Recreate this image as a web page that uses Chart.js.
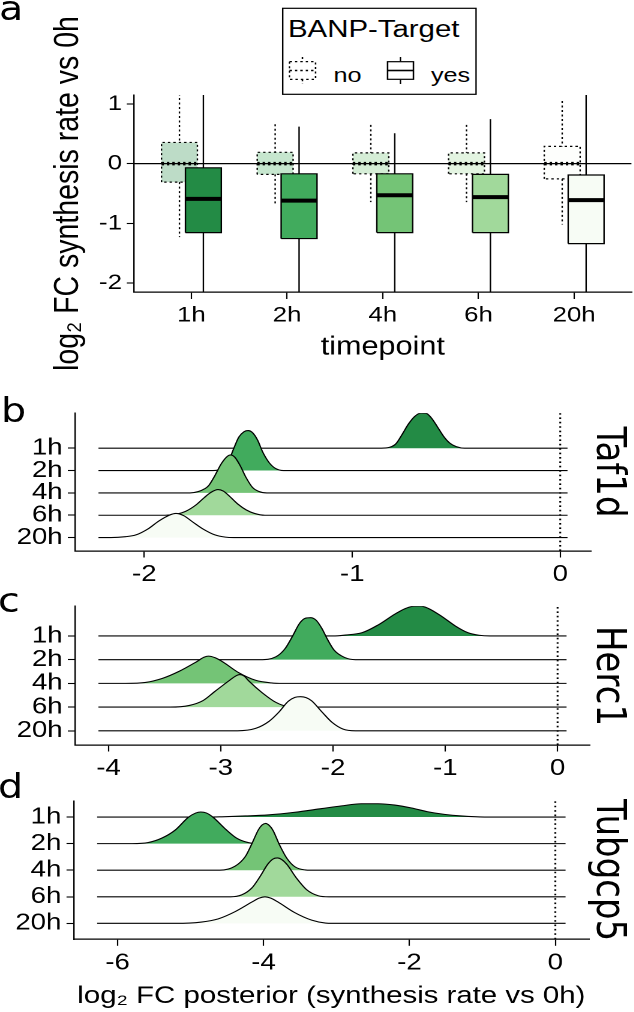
<!DOCTYPE html>
<html lang="en">
<head>
<meta charset="utf-8">
<title>BANP target synthesis rates</title>
<script src="https://cdn.jsdelivr.net/npm/chart.js@4.4.1/dist/chart.umd.min.js"></script>
<style>
  html, body { margin: 0; padding: 0; background: #ffffff; overflow: hidden; }
  /* the source figure is stretched horizontally: draw narrow, then stretch */
  #page { position: relative; width: 528.33px; height: 1012px; transform: scaleX(1.2); transform-origin: 0 0; }
  .panel { position: absolute; left: 0; width: 528.33px; }
  #overlay { position: absolute; left: 0; top: 0; overflow: visible; pointer-events: none; }
</style>
</head>
<body>
<div id="page">
  <div class="panel" id="box-a"><canvas id="chart-a"></canvas></div>
  <div class="panel" id="box-b"><canvas id="chart-b"></canvas></div>
  <div class="panel" id="box-c"><canvas id="chart-c"></canvas></div>
  <div class="panel" id="box-d"><canvas id="chart-d"></canvas></div>
  <svg id="overlay" xmlns="http://www.w3.org/2000/svg" width="528.33" height="1012"></svg>
</div>
<script>
/* ======================================================
   Data
====================================================== */
const TIMEPOINTS = ['1h', '2h', '4h', '6h', '20h'];
const GROUPS = ['no', 'yes'];
const LEGEND_TITLE = 'BANP-Target';
const Y_TICKS_A = [-2, -1, 0, 1];
const Y_LIMITS_A = [-2, 1];

// panel a, BANP-Target = no
const NO_LOW  = [-1.23, -0.67, -0.645, -0.645, -1.02];
const NO_Q1   = [-0.31, -0.18, -0.17, -0.17, -0.255];
const NO_MED  = [0, 0, 0, 0, 0];
const NO_Q3   = [0.355, 0.19, 0.18, 0.18, 0.29];
const NO_HIGH = [1.25, 0.66, 0.65, 0.65, 1.05];

// panel a, BANP-Target = yes
const YES_LOW  = [-2.6, -2.45, -2.4, -2.4, -2.6];
const YES_Q1   = [-1.155, -1.255, -1.155, -1.155, -1.34];
const YES_MED  = [-0.59, -0.62, -0.53, -0.56, -0.61];
const YES_Q3   = [-0.07, -0.17, -0.17, -0.18, -0.19];
const YES_HIGH = [1.3, 0.62, 0.51, 0.745, 1.3];

// ridge panels: [log2 FC, density height in rows]
const GENES = ['Taf1d', 'Herc1', 'Tubgcp5'];
const X_TITLE_D = 'log₂ FC posterior (synthesis rate vs 0h)';

const TAF1D_RANGE = [-2.22, 0.035];
const TAF1D_TICKS = [-2, -1, 0];
const TAF1D_1H  = [[-0.86, 0], [-0.82, 0.04], [-0.79, 0.2], [-0.76, 0.62], [-0.73, 1.08], [-0.70, 1.42], [-0.67, 1.57], [-0.645, 1.56], [-0.62, 1.36], [-0.59, 0.95], [-0.56, 0.52], [-0.53, 0.22], [-0.50, 0.07], [-0.46, 0]];
const TAF1D_2H  = [[-1.67, 0], [-1.63, 0.05], [-1.60, 0.3], [-1.57, 0.98], [-1.545, 1.5], [-1.52, 1.74], [-1.50, 1.79], [-1.48, 1.7], [-1.455, 1.36], [-1.43, 0.82], [-1.40, 0.36], [-1.37, 0.1], [-1.33, 0]];
const TAF1D_4H  = [[-1.78, 0], [-1.74, 0.06], [-1.71, 0.18], [-1.69, 0.33], [-1.66, 0.78], [-1.63, 1.3], [-1.60, 1.64], [-1.585, 1.70], [-1.565, 1.6], [-1.54, 1.24], [-1.51, 0.68], [-1.48, 0.25], [-1.45, 0.07], [-1.41, 0]];
const TAF1D_6H  = [[-1.90, 0], [-1.85, 0.04], [-1.80, 0.18], [-1.75, 0.47], [-1.71, 0.8], [-1.68, 1.02], [-1.645, 1.15], [-1.62, 1.08], [-1.59, 0.85], [-1.55, 0.5], [-1.51, 0.24], [-1.47, 0.08], [-1.42, 0]];
const TAF1D_20H = [[-2.16, 0], [-2.09, 0.04], [-2.04, 0.12], [-1.98, 0.4], [-1.93, 0.74], [-1.88, 1.0], [-1.848, 1.08], [-1.81, 0.98], [-1.77, 0.72], [-1.72, 0.4], [-1.66, 0.12], [-1.61, 0.02], [-1.57, 0]];

const HERC1_RANGE = [-4.09, 0.08];
const HERC1_TICKS = [-4, -3, -2, -1, 0];
const HERC1_1H  = [[-2.0, 0], [-1.89, 0.04], [-1.74, 0.14], [-1.6, 0.46], [-1.45, 0.92], [-1.36, 1.15], [-1.29, 1.25], [-1.22, 1.26], [-1.15, 1.16], [-1.03, 0.82], [-0.91, 0.42], [-0.8, 0.14], [-0.7, 0.03], [-0.6, 0]];
const HERC1_2H  = [[-2.65, 0], [-2.51, 0.12], [-2.43, 0.45], [-2.36, 1.0], [-2.3, 1.52], [-2.25, 1.74], [-2.2, 1.77], [-2.15, 1.66], [-2.1, 1.32], [-2.05, 0.86], [-1.99, 0.4], [-1.9, 0.1], [-1.8, 0]];
const HERC1_4H  = [[-3.85, 0], [-3.67, 0.04], [-3.52, 0.21], [-3.37, 0.51], [-3.22, 0.9], [-3.15, 1.1], [-3.11, 1.15], [-3.05, 1.08], [-2.98, 0.9], [-2.84, 0.45], [-2.69, 0.13], [-2.55, 0.02], [-2.45, 0]];
const HERC1_6H  = [[-3.45, 0], [-3.28, 0.07], [-3.16, 0.27], [-3.05, 0.67], [-2.93, 1.1], [-2.86, 1.33], [-2.83, 1.37], [-2.79, 1.3], [-2.75, 1.1], [-2.63, 0.6], [-2.51, 0.2], [-2.41, 0.03], [-2.3, 0]];
const HERC1_20H = [[-2.85, 0], [-2.69, 0.1], [-2.57, 0.4], [-2.48, 0.8], [-2.4, 1.24], [-2.34, 1.41], [-2.29, 1.44], [-2.24, 1.4], [-2.19, 1.26], [-2.1, 0.8], [-2.01, 0.36], [-1.91, 0.07], [-1.8, 0]];

const TUBGCP5_RANGE = [-6.28, 0.14];
const TUBGCP5_TICKS = [-6, -4, -2, 0];
const TUBGCP5_1H  = [[-4.75, 0], [-4.57, 0.01], [-4.25, 0.04], [-3.94, 0.08], [-3.57, 0.18], [-3.2, 0.32], [-2.93, 0.42], [-2.66, 0.5], [-2.43, 0.5], [-2.2, 0.45], [-1.97, 0.34], [-1.75, 0.2], [-1.52, 0.1], [-1.29, 0.04], [-0.97, 0]];
const TUBGCP5_2H  = [[-5.8, 0], [-5.58, 0.04], [-5.39, 0.21], [-5.21, 0.51], [-5.03, 0.99], [-4.93, 1.15], [-4.86, 1.19], [-4.78, 1.15], [-4.69, 0.99], [-4.53, 0.57], [-4.37, 0.21], [-4.21, 0.04], [-4.05, 0]];
const TUBGCP5_4H  = [[-4.6, 0], [-4.39, 0.15], [-4.25, 0.51], [-4.16, 0.99], [-4.07, 1.52], [-4.02, 1.7], [-3.97, 1.76], [-3.92, 1.68], [-3.87, 1.5], [-3.78, 0.95], [-3.68, 0.45], [-3.57, 0.13], [-3.43, 0.01], [-3.35, 0]];
const TUBGCP5_6H  = [[-4.45, 0], [-4.3, 0.07], [-4.16, 0.33], [-4.05, 0.75], [-3.94, 1.23], [-3.87, 1.42], [-3.81, 1.46], [-3.75, 1.4], [-3.68, 1.22], [-3.55, 0.71], [-3.41, 0.27], [-3.25, 0.04], [-3.1, 0]];
const TUBGCP5_20H = [[-5.2, 0], [-4.85, 0.05], [-4.62, 0.17], [-4.39, 0.44], [-4.16, 0.8], [-4.06, 0.95], [-3.98, 1.0], [-3.9, 0.95], [-3.8, 0.8], [-3.57, 0.4], [-3.34, 0.12], [-3.15, 0.01], [-3.05, 0]];


/* ======================================================
   Styles and layout (final pixels, before the stretch)
====================================================== */
const SX = 1.2;
const INK = '#000000';
const GREENS = ['#238b45', '#41ab5d', '#74c476', '#a1d99b', '#f7fcf5'];
const NO_ALPHA = 0.3;
const DODGE = 0.125;
const BOX_W = 0.375;

const LAYOUT = {
  a: { top: 0,   height: 385, padTop: 95, axisLeft: 134,  axisRight: 634, xAxisH: 93 },
  b: { top: 395, height: 195, padTop: 10, axisLeft: 75,   axisRight: 591, xAxisH: 39 },
  c: { top: 588, height: 197, padTop: 10, axisLeft: 75,   axisRight: 590, xAxisH: 40 },
  d: { top: 783, height: 229, padTop: 10, axisLeft: 73.7, axisRight: 589, xAxisH: 72.7 }
};

Chart.defaults.font.family = "'Liberation Sans', Arial, 'DejaVu Sans', sans-serif";
Chart.defaults.color = INK;
Chart.defaults.animation = false;
Chart.defaults.events = [];
Chart.defaults.elements.point.radius = 0;


/* ======================================================
   Helpers
====================================================== */
function rgba(hex, a) {
  const n = parseInt(hex.slice(1), 16);
  return `rgba(${(n >> 16) & 255}, ${(n >> 8) & 255}, ${n & 255}, ${a})`;
}

function placePanel(key) {
  const el = document.getElementById('box-' + key);
  el.style.top = LAYOUT[key].top + 'px';
  el.style.height = LAYOUT[key].height + 'px';
}

function axisStyle(tickLength) {
  return {
    grid: { display: true, drawOnChartArea: false, drawTicks: true, tickLength, tickColor: INK, tickWidth: 1.1 },
    border: { display: true, color: INK, width: 1.2 }
  };
}

function baseOptions(L) {
  return {
    responsive: true,
    maintainAspectRatio: false,
    devicePixelRatio: 2,
    layout: { padding: { top: L.padTop, left: 0, right: (634 - L.axisRight) / SX, bottom: 0 } },
    plugins: {
      legend: { display: false },
      tooltip: { enabled: false },
      filler: { drawTime: 'beforeDatasetDraw' }
    }
  };
}


/* ======================================================
   Panel a: boxplots
====================================================== */
function boxplotSets(stats, shift, dashed, orders) {
  const { low, q1, med, q3, high } = stats;
  const half = BOX_W / 2;
  const cx = i => i + 1 + shift;
  const dash = dashed ? [2, 2.5] : [];

  const whiskers = {
    data: low.flatMap((_, i) => [
      { x: cx(i), y: high[i] }, { x: cx(i), y: q3[i] }, { x: cx(i), y: null },
      { x: cx(i), y: q1[i] }, { x: cx(i), y: low[i] }, { x: cx(i), y: null }
    ]),
    borderColor: INK, borderWidth: 1.2, borderDash: dash, order: orders[0]
  };

  const boxes = low.map((_, i) => ({
    data: [
      { x: cx(i) - half, y: q1[i] }, { x: cx(i) - half, y: q3[i] },
      { x: cx(i) + half, y: q3[i] }, { x: cx(i) + half, y: q1[i] },
      { x: cx(i) - half, y: q1[i] }
    ],
    fill: 'shape',
    backgroundColor: dashed ? rgba(GREENS[i], NO_ALPHA) : GREENS[i],
    borderColor: INK, borderWidth: 1.2, borderDash: dash, borderJoinStyle: 'miter',
    order: orders[1]
  }));

  const medians = {
    data: med.flatMap((m, i) => [
      { x: cx(i) - half, y: m }, { x: cx(i) + half, y: m }, { x: cx(i) + half, y: null }
    ]),
    borderColor: INK, borderWidth: dashed ? 3.5 : 4, borderDash: dash, borderCapStyle: 'butt',
    order: orders[2]
  };

  return [whiskers, ...boxes, medians];
}

function renderPanelA() {
  const L = LAYOUT.a;
  placePanel('a');
  const xMin = 0.4;
  const xMax = TIMEPOINTS.length + 0.6;
  const yPad = (Y_LIMITS_A[1] - Y_LIMITS_A[0]) * 0.05;

  const noStats = { low: NO_LOW, q1: NO_Q1, med: NO_MED, q3: NO_Q3, high: NO_HIGH };
  const yesStats = { low: YES_LOW, q1: YES_Q1, med: YES_MED, q3: YES_Q3, high: YES_HIGH };

  const zeroLine = {
    data: [{ x: xMin, y: 0 }, { x: xMax, y: 0 }],
    borderColor: INK, borderWidth: 1.3, order: 1
  };

  const options = baseOptions(L);
  options.scales = {
    x: {
      type: 'linear', min: xMin, max: xMax,
      afterBuildTicks: s => { s.ticks = TIMEPOINTS.map((_, i) => ({ value: i + 1 })); },
      ticks: { callback: v => TIMEPOINTS[v - 1], font: { size: 21.5 }, color: INK, padding: 3.5, maxRotation: 0, autoSkip: false },
      ...axisStyle(7),
      title: { display: true, text: 'timepoint', color: INK, font: { size: 25.5 }, padding: { top: 0, bottom: 22 } },
      afterFit: s => { s.height = L.xAxisH; }
    },
    y: {
      type: 'linear', min: Y_LIMITS_A[0] - yPad, max: Y_LIMITS_A[1] + yPad,
      afterBuildTicks: s => { s.ticks = Y_TICKS_A.map(v => ({ value: v })); },
      ticks: { callback: v => String(v), font: { size: 21.5 }, color: INK, padding: 4 },
      ...axisStyle(6),
      title: { display: true, text: 'log₂ FC synthesis rate vs 0h', color: INK, font: { size: 28.5 }, padding: { top: 40, bottom: 0 } },
      afterFit: s => { s.width = L.axisLeft / SX; }
    }
  };

  return new Chart(document.getElementById('chart-a'), {
    type: 'line',
    data: {
      datasets: [
        ...boxplotSets(noStats, -DODGE, true, [9, 8, 0]),
        ...boxplotSets(yesStats, DODGE, false, [6, 5, 4]),
        zeroLine
      ]
    },
    options
  });
}


/* ======================================================
   Panels b-d: ridgelines
====================================================== */
function renderRidges(key, ridges, range, xTicks, xTitle) {
  const L = LAYOUT[key];
  placePanel(key);
  const n = ridges.length;
  const pad = (range[1] - range[0]) * 0.05;
  const tops = ridges.map((pts, i) => n - i + Math.max(...pts.map(p => p[1])));
  const yMax = Math.max(n + 0.6, ...tops);

  const datasets = ridges.map((pts, i) => {
    const base = n - i;
    return {
      data: [
        { x: range[0], y: base },
        ...pts.map(([x, h]) => ({ x, y: base + h })),
        { x: range[1], y: base }
      ],
      fill: { value: base },
      backgroundColor: GREENS[i],
      borderColor: INK,
      borderWidth: 1.1,
      cubicInterpolationMode: 'monotone',
      order: 10 - i
    };
  });

  datasets.push({
    data: [{ x: 0, y: 0.4 }, { x: 0, y: yMax }],
    borderColor: INK, borderWidth: 1.6, borderDash: [1.6, 2.8], order: 1
  });

  const options = baseOptions(L);
  options.scales = {
    x: {
      type: 'linear', min: range[0] - pad, max: range[1] + pad,
      afterBuildTicks: s => { s.ticks = xTicks.map(v => ({ value: v })); },
      ticks: { callback: v => String(v), font: { size: 23 }, color: INK, padding: 3.5, maxRotation: 0, autoSkip: false },
      ...axisStyle(6.5),
      title: xTitle
        ? { display: true, text: xTitle, color: INK, font: { size: 24.5 }, padding: { top: 0, bottom: 1 } }
        : { display: false },
      afterFit: s => { s.height = L.xAxisH; }
    },
    y: {
      type: 'linear', min: 0.4, max: yMax,
      afterBuildTicks: s => { s.ticks = TIMEPOINTS.map((_, i) => ({ value: n - i })); },
      ticks: { callback: v => TIMEPOINTS[n - v], font: { size: 23 }, color: INK, padding: 4.3 },
      ...axisStyle(6),
      afterFit: s => { s.width = L.axisLeft / SX; }
    }
  };

  return new Chart(document.getElementById('chart-' + key), {
    type: 'line',
    data: { datasets },
    options
  });
}


/* ======================================================
   Overlay: panel tags, gene strips, legend
====================================================== */
function renderOverlay() {
  const u = x => (x / SX).toFixed(2);
  const tags = [['a', -1, 20], ['b', 1, 421.7], ['c', -2, 612], ['d', -2, 798]];
  const stripY = [472, 676, 870];
  const parts = [];

  parts.push(`<g font-family="'DejaVu Sans', sans-serif" font-size="33" fill="${INK}">`);
  tags.forEach(([t, x, y]) => parts.push(`<text x="${u(x)}" y="${y}">${t}</text>`));
  parts.push('</g>');

  parts.push(`<g font-family="'DejaVu Sans', sans-serif" font-size="34" fill="${INK}" text-anchor="middle" dominant-baseline="central">`);
  GENES.forEach((g, i) => parts.push(`<text transform="translate(${u(611)},${stripY[i]}) rotate(90)">${g}</text>`));
  parts.push('</g>');

  // legend box
  parts.push(`<rect x="${u(282.7)}" y="8.3" width="${u(476 - 282.7)}" height="86" fill="#fff" stroke="${INK}" stroke-width="1.2"/>`);
  parts.push(`<g font-family="'Liberation Sans', Arial, sans-serif" fill="${INK}">`);
  parts.push(`<text x="${u(288)}" y="36.7" font-size="24.5">${LEGEND_TITLE}</text>`);
  const keyX = [302.5, 400.5];
  const labelX = [333.5, 431];
  GROUPS.forEach((g, i) => {
    const dash = i === 0 ? 'stroke-dasharray="2 2.5"' : '';
    const c = keyX[i];
    parts.push(`<g stroke="${INK}" stroke-width="1.2" fill="#fff" ${dash}>` +
      `<line x1="${u(c)}" x2="${u(c)}" y1="57" y2="61.7"/>` +
      `<line x1="${u(c)}" x2="${u(c)}" y1="79.3" y2="84"/>` +
      `<rect x="${u(c - 13)}" y="61.7" width="${u(26)}" height="17.6"/>` +
      `<line x1="${u(c - 13)}" x2="${u(c + 13)}" y1="70.5" y2="70.5" stroke-width="1.6"/>` +
      `</g>`);
    parts.push(`<text x="${u(labelX[i])}" y="81.7" font-size="21">${g}</text>`);
  });
  parts.push('</g>');

  document.getElementById('overlay').innerHTML = parts.join('');
}


/* ======================================================
   Render
====================================================== */
renderPanelA();
renderRidges('b', [TAF1D_1H, TAF1D_2H, TAF1D_4H, TAF1D_6H, TAF1D_20H], TAF1D_RANGE, TAF1D_TICKS, null);
renderRidges('c', [HERC1_1H, HERC1_2H, HERC1_4H, HERC1_6H, HERC1_20H], HERC1_RANGE, HERC1_TICKS, null);
renderRidges('d', [TUBGCP5_1H, TUBGCP5_2H, TUBGCP5_4H, TUBGCP5_6H, TUBGCP5_20H], TUBGCP5_RANGE, TUBGCP5_TICKS, X_TITLE_D);
renderOverlay();
</script>
</body>
</html>
